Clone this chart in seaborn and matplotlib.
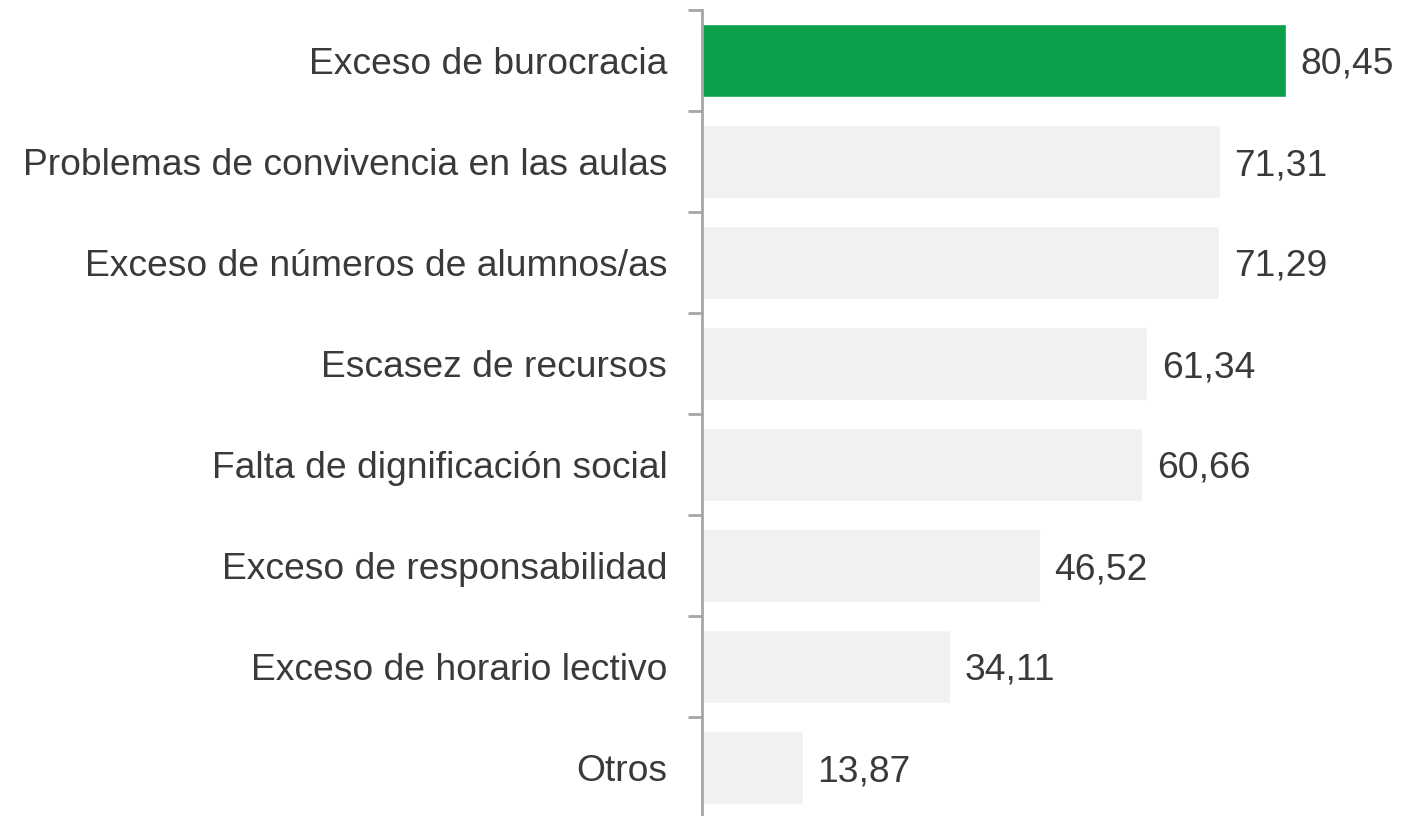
import pandas as pd
import matplotlib.pyplot as plt
import seaborn as sns
import numpy as np

categorias = [
    "Exceso de burocracia",
    "Problemas de convivencia en las aulas",
    "Exceso de números de alumnos/as",
    "Escasez de recursos",
    "Falta de dignificación social",
    "Exceso de responsabilidad",
    "Exceso de horario lectivo",
    "Otros",
]
valores = [80.45, 71.31, 71.29, 61.34, 60.66, 46.52, 34.11, 13.87]

VERDE = "#0c9f4c"
GRIS = "#f2f1ef"
TEXTO = "#3a3a3a"

sns.set_style("white")
plt.rcParams["font.family"] = ["Liberation Sans", "DejaVu Sans"]

df = pd.DataFrame({"categoria": categorias, "valor": valores})
df["destacado"] = ["si"] + ["no"] * (len(categorias) - 1)

fig = plt.figure(figsize=(14.09, 8.16), dpi=100)
ax = fig.add_axes([702 / 1409, -2 / 816, 1 - 702 / 1409, 808 / 816])

sns.barplot(
    data=df,
    x="valor",
    y="categoria",
    hue="destacado",
    palette={"si": VERDE, "no": GRIS},
    saturation=1,
    width=0.72,
    dodge=False,
    legend=False,
    ax=ax,
)

for i, v in enumerate(valores):
    ax.text(v + 2.0, i, f"{v:.2f}".replace(".", ","), va="center_baseline", ha="left",
            fontsize=26.8, color=TEXTO)

ax.set_xlim(0, 97.4)
ax.set_ylim(len(categorias) - 0.5, -0.5)
ax.set_xlabel("")
ax.set_ylabel("")
ax.set_xticks([])

for s in ["top", "right", "bottom"]:
    ax.spines[s].set_visible(False)
ax.spines["left"].set_color("#a6a6a6")
ax.spines["left"].set_linewidth(2)

ax.tick_params(axis="y", which="major", left=False, length=0, pad=25,
               labelsize=26.8, labelcolor=TEXTO)
for lbl in ax.get_yticklabels():
    lbl.set_verticalalignment("center_baseline")
ax.set_yticks(np.arange(-0.5, len(categorias), 1.0), minor=True)
ax.tick_params(axis="y", which="minor", left=True, length=10, width=2, color="#a6a6a6")

fig.savefig("out.png", dpi=100)
